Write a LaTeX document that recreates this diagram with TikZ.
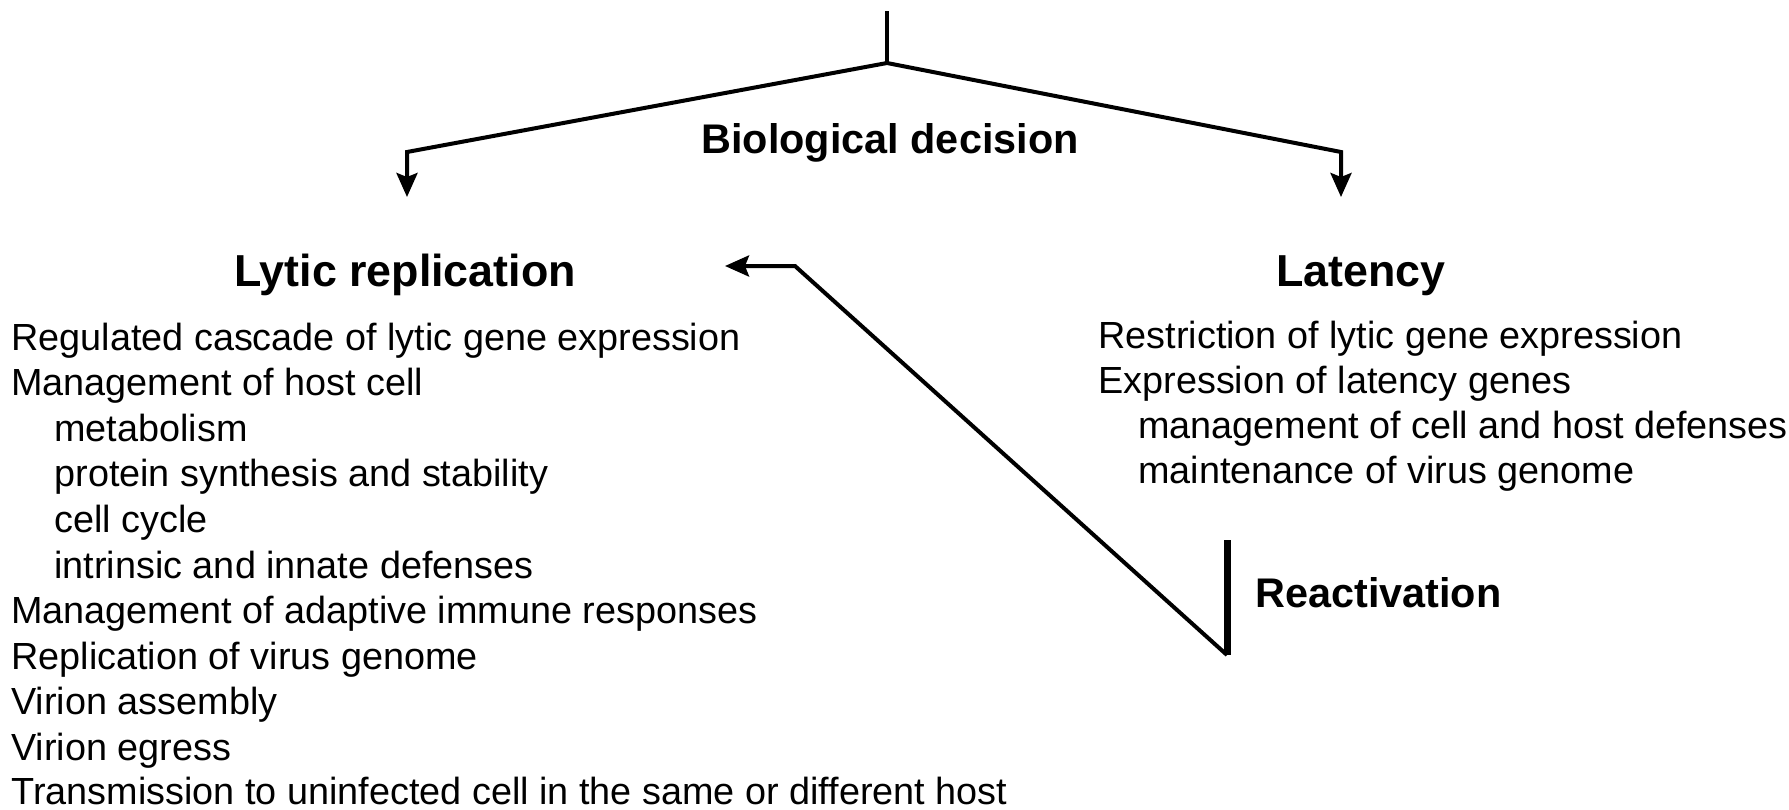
\documentclass[tikz,border=0pt]{standalone}
\usepackage{fontspec}
\setmainfont{Liberation Sans}
\usetikzlibrary{arrows.meta}
\begin{document}
\begin{tikzpicture}[x=0.5pt,y=-0.5pt,
  body/.style={anchor=base west,inner sep=0pt,font=\fontsize{18.9}{22}\selectfont},
  head/.style={anchor=base,inner sep=0pt,font=\fontsize{22.4}{26}\selectfont\bfseries},
  lbl/.style={inner sep=0pt,font=\fontsize{20.7}{24}\selectfont\bfseries},
  conn/.style={line width=2pt,line join=miter},
  tip/.style={-{Stealth[length=12pt,width=10.5pt,inset=2pt]}}]
\useasboundingbox (0,0) rectangle (1789,809);

% decision tree
\coordinate (top) at (887,11);
\coordinate (apex) at (887,63);
\coordinate (lbend) at (407,152);
\coordinate (rbend) at (1341,152);
\coordinate (lend) at (407,197);
\coordinate (rend) at (1341,197);
\draw[conn] (top) -- (apex);
\draw[conn,tip] (apex) -- (lbend) -- (lend);
\draw[conn,tip] (apex) -- (rbend) -- (rend);
\node[lbl,anchor=base] (decision) at (890,153) {Biological decision};

% headings
\node[head] (lytic) at (405,286) {Lytic replication};
\node[head] (latency) at (1361,286) {Latency};

% lytic list
\node[body] (l1) at (11,350) {Regulated cascade of lytic gene expression};
\node[body] (l2) at (11,395.6) {Management of host cell};
\node[body] (l3) at (54,441.2) {metabolism};
\node[body] (l4) at (54,486.8) {protein synthesis and stability};
\node[body] (l5) at (54,532.4) {cell cycle};
\node[body] (l6) at (54,578) {intrinsic and innate defenses};
\node[body] (l7) at (11,623.6) {Management of adaptive immune responses};
\node[body] (l8) at (11,669.2) {Replication of virus genome};
\node[body] (l9) at (11,714.8) {Virion assembly};
\node[body] (l10) at (11,760.4) {Virion egress};
\node[body] (l11) at (11,804) {Transmission to uninfected cell in the same or different host};

% latency list
\node[body] (r1) at (1098,348) {Restriction of lytic gene expression};
\node[body] (r2) at (1098,393) {Expression of latency genes};
\node[body] (r3) at (1138,438) {management of cell and host defenses};
\node[body] (r4) at (1138,483) {maintenance of virus genome};

% reactivation
\coordinate (bartop) at (1227,540);
\coordinate (barbot) at (1227,655);
\coordinate (rbendr) at (795,266);
\coordinate (rtip) at (725,266);
\draw[line width=3.5pt] (bartop) -- (barbot);
\draw[conn,tip] (barbot) -- (rbendr) -- (rtip);
\node[lbl,anchor=base west] (react) at (1255,607) {Reactivation};
\end{tikzpicture}
\end{document}
